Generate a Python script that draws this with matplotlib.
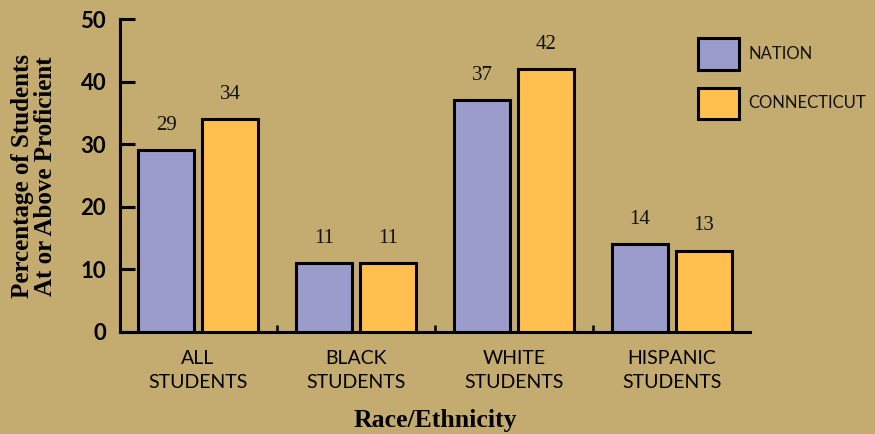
import matplotlib
matplotlib.use("Agg")
import matplotlib.pyplot as plt
from matplotlib.patches import Rectangle
import numpy as np

categories = ["ALL\nSTUDENTS", "BLACK\nSTUDENTS", "WHITE\nSTUDENTS", "HISPANIC\nSTUDENTS"]
nation = [29, 11, 37, 14]
connecticut = [34, 11, 42, 13]
series_names = ["NATION", "CONNECTICUT"]
yticks = [0, 10, 20, 30, 40, 50]

bg = "#C4AB6F"
c_nation = "#9B9BCC"
c_ct = "#FFC04F"

fig = plt.figure(figsize=(8.75, 4.34), dpi=100, facecolor=bg)
ax = fig.add_axes([120/875, 1-332/434, 630/875, (332-19)/434])
ax.set_facecolor(bg)

x = np.arange(len(categories))
w = 0.36
off = 0.2025
b1 = ax.bar(x - off, nation, w, color=c_nation, edgecolor="black", linewidth=2.2, zorder=3)
b2 = ax.bar(x + off, connecticut, w, color=c_ct, edgecolor="black", linewidth=2.2, zorder=3)

for bars, vals in ((b1, nation), (b2, connecticut)):
    for r, v in zip(bars, vals):
        ax.annotate(str(v), (r.get_x() + r.get_width()/2, v), xytext=(0, 11),
                    textcoords="offset points", ha="center", va="bottom",
                    family="Liberation Serif", fontsize=15, color="#111111")

ax.set_xlim(-0.494, 3.494)
ax.set_ylim(0, 50)
for s in ("top", "right"):
    ax.spines[s].set_visible(False)
for s in ("left", "bottom"):
    ax.spines[s].set_linewidth(2.2)
    ax.spines[s].set_color("black")

ax.set_yticks(yticks)
ax.set_yticklabels([str(t) for t in yticks], family="Lato", fontweight="bold", fontsize=16)
ax.tick_params(axis="y", direction="in", length=11, width=2.2, pad=10)

ax.set_xticks([0.5, 1.5, 2.5], minor=False)
ax.set_xticklabels([])
ax.tick_params(axis="x", which="major", direction="in", length=5, width=1.8)
ax.set_xticks(x, minor=True)
ax.set_xticklabels(categories, minor=True, family="Lato", fontsize=14, linespacing=1.5)
ax.tick_params(axis="x", which="minor", length=0, pad=13)

ax.set_xlabel("Race/Ethnicity", family="Liberation Serif", fontweight="bold", fontsize=18.5, labelpad=13)
fig.text(0.039, 1-176/434, "Percentage of Students\nAt or Above Proficient", rotation=90,
         ha="center", va="center", family="Liberation Serif", fontweight="bold",
         fontsize=18, linespacing=1.0)

# legend drawn in figure pixel positions
W, H = 875, 434
for (y0, y1), color, name in zip([(38, 70), (88, 119)], [c_nation, c_ct], series_names):
    fig.add_artist(Rectangle((698/W, 1-y1/H), 41/W, (y1-y0)/H, transform=fig.transFigure,
                             facecolor=color, edgecolor="black", linewidth=2.2))
    fig.text(748/W, 1-((y0+y1)/2)/H, name, ha="left", va="center",
             family="Lato", fontsize=12, color="#111111")

fig.savefig("out.png", dpi=100, facecolor=bg)
